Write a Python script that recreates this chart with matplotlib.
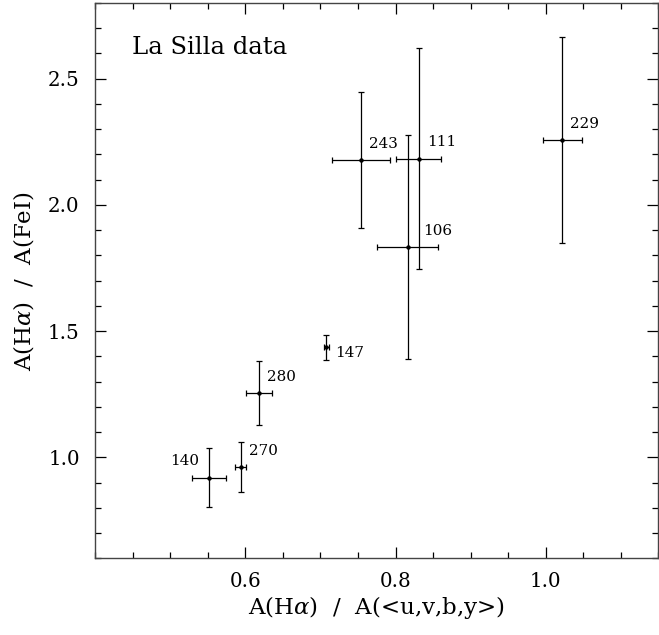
import matplotlib
matplotlib.use("Agg")
import matplotlib.pyplot as plt
from matplotlib.ticker import MultipleLocator, FixedLocator

# star ids and measured ratios
ids = ['140', '270', '280', '147', '243', '111', '106', '229']
x_ratio = [0.552, 0.594, 0.618, 0.708, 0.754, 0.831, 0.816, 1.022]
x_err = [0.023, 0.0076, 0.0177, 0.003, 0.038, 0.030, 0.041, 0.0257]
y_ratio = [0.920, 0.962, 1.255, 1.436, 2.177, 2.183, 1.834, 2.257]
y_err = [0.118, 0.098, 0.126, 0.051, 0.270, 0.437, 0.443, 0.409]
x_ticks = [0.6, 0.8, 1.0]
y_ticks = [1.0, 1.5, 2.0, 2.5]

plt.rcParams['font.family'] = ['DejaVu Serif']
plt.rcParams['mathtext.fontset'] = 'dejavuserif'

fig = plt.figure(figsize=(6.59, 6.35), dpi=100)
ax = fig.add_axes([0.1442, 0.1205, 0.855, 0.8748])

ax.errorbar(x_ratio, y_ratio, xerr=x_err, yerr=y_err, fmt='o', ms=2.2,
            color='black', ecolor='black', elinewidth=0.9, capsize=2.3,
            capthick=0.9)

# label placement (offset in points, alignment)
lab_pos = {'140': (-7.2, 6.7, 'right', 'bottom'),
           '147': (6.5, -4.1, 'left', 'center'),
           '106': (11.2, 6.5, 'left', 'bottom')}
for name, xx, yy in zip(ids, x_ratio, y_ratio):
    dx, dy, ha, va = lab_pos.get(name, (5.8, 6.7, 'left', 'bottom'))
    ax.annotate(name, (xx, yy), xytext=(dx, dy), textcoords='offset points',
                ha=ha, va=va, fontsize=10.9)

ax.text(0.0657, 0.908, 'La Silla data', transform=ax.transAxes,
        fontsize=17.5, va='baseline', ha='left')

ax.set_xlim(0.4, 1.15)
ax.set_ylim(0.6, 2.8)
ax.xaxis.set_major_locator(FixedLocator(x_ticks))
ax.xaxis.set_minor_locator(MultipleLocator(0.05))
ax.yaxis.set_major_locator(FixedLocator(y_ticks))
ax.yaxis.set_minor_locator(MultipleLocator(0.1))
ax.xaxis.set_major_formatter(plt.FormatStrFormatter('%.1f'))
ax.yaxis.set_major_formatter(plt.FormatStrFormatter('%.1f'))
ax.tick_params(which='both', direction='in', top=True, right=True,
               width=0.9, labelsize=14.3)
ax.tick_params(which='major', length=8)
ax.tick_params(which='minor', length=4)
ax.tick_params(axis='x', which='major', pad=10)
ax.tick_params(axis='y', which='major', pad=11)
for s in ax.spines.values():
    s.set_linewidth(1.0)
    s.set_color('#444444')

ax.set_xlabel(r'A(H$\alpha$)  /  A(<u,v,b,y>)', fontsize=16.5, labelpad=2)
ax.set_ylabel(r'A(H$\alpha$)  /  A(FeI)', fontsize=16.5, labelpad=9)

fig.savefig('out.png', dpi=100)
